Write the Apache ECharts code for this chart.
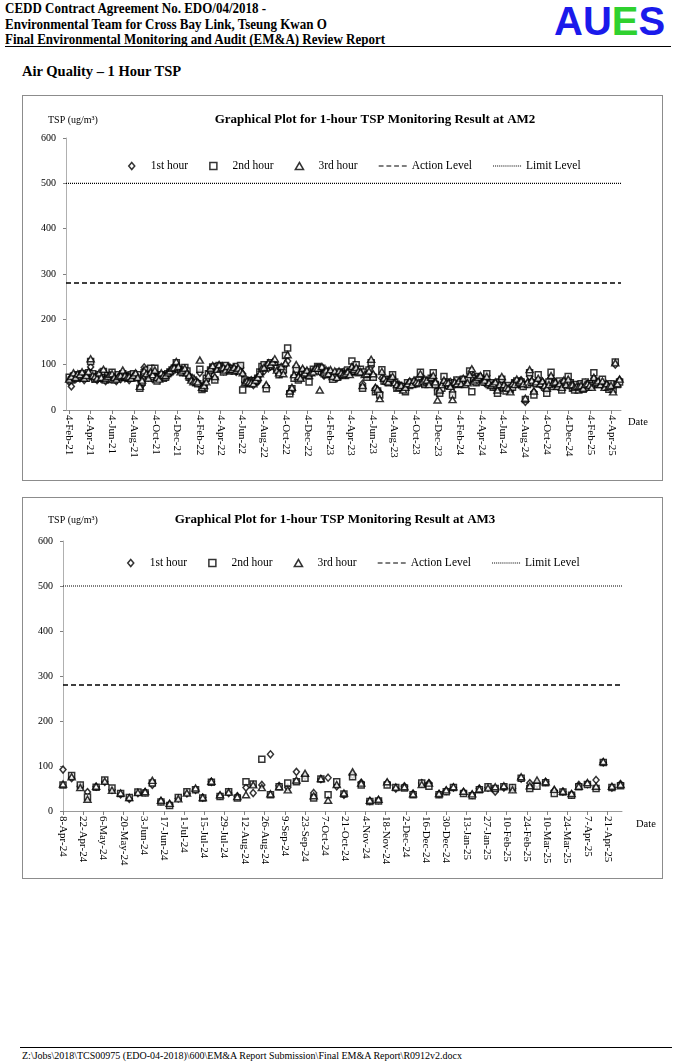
<!DOCTYPE html>
<html><head><meta charset="utf-8">
<script src="https://cdn.jsdelivr.net/npm/echarts@6/dist/echarts.min.js"></script>
<style>
html,body{margin:0;padding:0;background:#fff;}
body{width:676px;height:1064px;position:relative;overflow:hidden;font-family:"Liberation Serif","Times New Roman",serif;color:#000;}
.hdr{position:absolute;left:5px;top:1px;font-weight:bold;font-size:13px;line-height:14.5px;transform-origin:0 0;transform:scaleY(1.08);}
.logo{position:absolute;left:554px;top:0px;font-family:"Liberation Sans",Arial,sans-serif;font-weight:bold;font-size:40px;line-height:40px;transform-origin:0 0;transform:scaleY(1.02);}
.rule{position:absolute;left:5px;width:666px;top:46px;height:0;border-top:1.5px solid #000;}
.sec{position:absolute;left:22px;top:63px;font-weight:bold;font-size:14.5px;line-height:17px;}
.box{position:absolute;left:22px;width:639px;border:1px solid #8c8c8c;}
#c1{top:95px;height:384px}
#c2{top:497px;height:380px}
.frule{position:absolute;left:20px;width:652px;top:1047px;height:0;border-top:1px solid #000}
.foot{position:absolute;left:22px;top:1050px;font-size:10px;line-height:12px;}
</style>
</head><body>
<div class="hdr">CEDD Contract Agreement No. EDO/04/2018 -<br>Environmental Team for Cross Bay Link, Tseung Kwan O<br>Final Environmental Monitoring and Audit (EM&amp;A) Review Report</div>
<div class="logo"><span style="color:#1a1aeb">A</span><span style="color:#1a1aeb">U</span><span style="color:#2fd12f">E</span><span style="color:#1a1aeb">S</span></div>
<div class="rule"></div>
<div class="sec">Air Quality – 1 Hour TSP</div>
<div class="box" id="c1"></div>
<div class="box" id="c2"></div>
<div class="frule"></div>
<div class="foot">Z:\Jobs\2018\TCS00975 (EDO-04-2018)\600\EM&amp;A Report Submission\Final EM&amp;A Report\R0912v2.docx</div>
<script>
// ---------------- AM2 data ----------------
const am2Dates = [
'2021-02-04','2021-02-10','2021-02-16','2021-02-22','2021-02-28',
'2021-03-06','2021-03-12','2021-03-18','2021-03-24','2021-03-30',
'2021-04-05','2021-04-11','2021-04-17','2021-04-23','2021-04-29',
'2021-05-05','2021-05-11','2021-05-17','2021-05-23','2021-05-29',
'2021-06-04','2021-06-10','2021-06-16','2021-06-22','2021-06-28',
'2021-07-04','2021-07-10','2021-07-16','2021-07-22','2021-07-28',
'2021-08-03','2021-08-09','2021-08-15','2021-08-21','2021-08-27',
'2021-09-02','2021-09-08','2021-09-14','2021-09-20','2021-09-26',
'2021-10-02','2021-10-08','2021-10-14','2021-10-20','2021-10-26',
'2021-11-01','2021-11-07','2021-11-13','2021-11-19','2021-11-25',
'2021-12-01','2021-12-07','2021-12-13','2021-12-19','2021-12-25','2021-12-31',
'2022-01-06','2022-01-12','2022-01-18','2022-01-24','2022-01-30',
'2022-02-05','2022-02-11','2022-02-17','2022-02-23',
'2022-03-01','2022-03-07','2022-03-13','2022-03-19','2022-03-25','2022-03-31',
'2022-04-06','2022-04-12','2022-04-18','2022-04-24','2022-04-30',
'2022-05-06','2022-05-12','2022-05-18','2022-05-24','2022-05-30',
'2022-06-05','2022-06-11','2022-06-17','2022-06-23','2022-06-29',
'2022-07-05','2022-07-11','2022-07-17','2022-07-23','2022-07-29',
'2022-08-04','2022-08-10','2022-08-16','2022-08-22','2022-08-28',
'2022-09-03','2022-09-09','2022-09-15','2022-09-21','2022-09-27',
'2022-10-03','2022-10-09','2022-10-15','2022-10-21','2022-10-27',
'2022-11-02','2022-11-08','2022-11-14','2022-11-20','2022-11-26',
'2022-12-02','2022-12-08','2022-12-14','2022-12-20','2022-12-26',
'2023-01-01','2023-01-07','2023-01-13','2023-01-19','2023-01-25','2023-01-31',
'2023-02-06','2023-02-12','2023-02-18','2023-02-24',
'2023-03-02','2023-03-08','2023-03-14','2023-03-20','2023-03-26',
'2023-04-01','2023-04-07','2023-04-13','2023-04-19','2023-04-25',
'2023-05-01','2023-05-07','2023-05-13','2023-05-19','2023-05-25','2023-05-31',
'2023-06-06','2023-06-12','2023-06-18','2023-06-24','2023-06-30',
'2023-07-06','2023-07-12','2023-07-18','2023-07-24','2023-07-30',
'2023-08-05','2023-08-11','2023-08-17','2023-08-23','2023-08-29',
'2023-09-04','2023-09-10','2023-09-16','2023-09-22','2023-09-28',
'2023-10-04','2023-10-10','2023-10-16','2023-10-22','2023-10-28',
'2023-11-03','2023-11-09','2023-11-15','2023-11-21','2023-11-27',
'2023-12-03','2023-12-09','2023-12-15','2023-12-21','2023-12-27',
'2024-01-02','2024-01-08','2024-01-14','2024-01-20','2024-01-26',
'2024-02-01','2024-02-07','2024-02-13','2024-02-19','2024-02-25',
'2024-03-02','2024-03-08','2024-03-14','2024-03-20','2024-03-26',
'2024-04-01','2024-04-07','2024-04-13','2024-04-19','2024-04-25',
'2024-05-01','2024-05-07','2024-05-13','2024-05-19','2024-05-25','2024-05-31',
'2024-06-06','2024-06-12','2024-06-18','2024-06-24','2024-06-30',
'2024-07-06','2024-07-12','2024-07-18','2024-07-24','2024-07-30',
'2024-08-05','2024-08-11','2024-08-17','2024-08-23','2024-08-29',
'2024-09-04','2024-09-10','2024-09-16','2024-09-22','2024-09-28',
'2024-10-04','2024-10-10','2024-10-16','2024-10-22','2024-10-28',
'2024-11-03','2024-11-09','2024-11-15','2024-11-21','2024-11-27',
'2024-12-03','2024-12-09','2024-12-15','2024-12-21','2024-12-27',
'2025-01-02','2025-01-08','2025-01-14','2025-01-20','2025-01-26',
'2025-02-01','2025-02-07','2025-02-13','2025-02-19','2025-02-25',
'2025-03-03','2025-03-09','2025-03-15','2025-03-21','2025-03-27',
'2025-04-02','2025-04-08','2025-04-14','2025-04-20','2025-04-26'
];
const am2Hour1 = [
62,52,70,68,74, 70,74,66,72,78, 95,70,72,66,74, 68,82,64,70,72, 76,70,64,72,68, 74,70,76,66,72,
72,76,70,68,55, 94,78,72,80,68, 76,70,66,72,74, 74,78,82,86,90, 98,92,86,84,90,80,
74,68,64,62,60, 82,52,56,66, 72,84,90,70,92,94, 90,86,92,88,94, 88,92,84,90,94, 80,62,60,64,66,
55,68,62,78,88, 86,52,92,96,100, 100,86,80,90,84, 100,108,40,44,74, 84,70,76,88,80, 84,78,80,86,88,
90,84,88,76,82,86, 76,72,80,70, 80,76,84,78,82, 80,92,84,88,90, 86,58,80,76,82,96, 76,48,44,38,70,
66,62,64,68,72, 58,52,56,48,50, 46,56,60,58,62, 60,64,72,58,62, 64,58,66,70,60, 44,42,52,60,56,
58,62,40,56,64, 60,66,58,64,62, 72,80,66,62,70, 72,64,60,76,58, 56,52,58,46,60,66, 52,46,50,44,54,
58,62,56,66,54, 18,58,74,62,40, 60,64,56,62,52, 44,58,72,56,60, 54,60,48,62,58, 66,58,52,46,54,
48,56,50,60,54, 56,52,70,58,60, 58,62,52,56,48, 56,50,100,60,66
];
const am2Hour2 = [
72,66,75,70,78, 75,80,72,70,82, 107,80,68,72,78, 74,85,66,76,68, 83,66,70,78,72, 80,72,74,70,78,
80,74,78,48,62, 82,88,76,92,74, 92,64,72,78,70, 72,80,84,88,92, 104,90,88,82,94,86,
72,70,66,60,58, 90,45,48,70, 80,88,95,66,96,98, 96,84,98,90,86, 92,86,96,88,98, 44,66,62,58,64,
62,64,70,84,96, 100,47,98,104,96, 98,92,78,94,88, 120,137,36,47,70, 90,66,72,84,78, 80,62,84,90,86,
96,94,92,80,78,84, 80,68,76,74, 84,78,80,76,88, 84,108,86,100,82, 90,48,84,72,88,104, 72,40,42,33,89,
64,68,60,66,78, 62,48,54,52,46, 40,60,54,62,58, 58,66,83,60,56, 60,62,70,82,56, 40,37,48,74,62,
54,58,33,60,66, 56,62,68,60,66, 86,40,70,60,74, 70,68,62,80,56, 60,50,54,37,62,68, 48,42,54,46,50,
60,64,58,62,52, 23,56,82,60,33, 58,78,60,56,50, 37,62,83,52,58, 56,64,44,60,62, 74,60,48,44,56,
44,58,46,62,50, 58,54,82,62,56, 60,68,54,50,46, 58,46,106,56,62
];
const am2Hour3 = [
68,74,82,72,80, 78,84,70,76,85, 113,76,74,70,82, 72,90,70,74,78, 80,72,68,74,76, 88,76,72,74,70,
76,82,72,52,66, 86,80,70,84,78, 88,72,68,82,76, 76,82,86,92,94, 107,96,84,88,92,82,
76,66,62,64,62, 110,50,54,62, 76,92,98,74,90,100, 92,94,88,96,90, 90,94,88,92,86, 82,60,64,62,60,
58,66,72,80,92, 94,56,104,100,106, 113,88,82,96,80, 104,122,42,50,78, 100,74,70,92,82, 88,76,82,84,92,
92,44,96,84,88,80, 89,74,86,72, 86,82,78,80,84, 78,96,90,94,86, 84,54,78,80,86,112, 80,50,46,25,85,
70,64,62,70,74, 60,56,50,54,44, 50,58,64,56,66, 62,60,80,64,68, 66,56,72,76,62, 22,44,56,66,60,
60,52,23,62,58, 64,58,70,56,60, 78,91,64,68,72, 76,62,66,74,60, 54,58,62,44,56,74, 56,50,48,40,58,
56,68,60,64,58, 26,62,89,66,42, 62,70,58,64,54, 48,56,76,60,62, 52,58,50,66,56, 68,54,56,50,52,
52,54,48,56,58, 54,50,72,60,64, 56,64,50,58,52, 54,40,104,58,68
];
const am2Ticks = ['2021-02-04','2021-04-04','2021-06-04','2021-08-04','2021-10-04','2021-12-04',
'2022-02-04','2022-04-04','2022-06-04','2022-08-04','2022-10-04','2022-12-04',
'2023-02-04','2023-04-04','2023-06-04','2023-08-04','2023-10-04','2023-12-04',
'2024-02-04','2024-04-04','2024-06-04','2024-08-04','2024-10-04','2024-12-04',
'2025-02-04','2025-04-04'];
const am2Action = 280, am2Limit = 500;

// ---------------- AM3 data ----------------
const am3Dates = [
'2024-04-08','2024-04-14','2024-04-20','2024-04-25','2024-05-01','2024-05-07','2024-05-12','2024-05-18','2024-05-24','2024-05-30',
'2024-06-04','2024-06-09','2024-06-15','2024-06-21','2024-06-27','2024-07-03','2024-07-09','2024-07-14','2024-07-20','2024-07-26',
'2024-08-01','2024-08-07','2024-08-13','2024-08-18','2024-08-24','2024-08-30','2024-09-05','2024-09-11','2024-09-17','2024-09-23',
'2024-09-29','2024-10-04','2024-10-09','2024-10-15','2024-10-20','2024-10-26','2024-11-01','2024-11-07','2024-11-13','2024-11-19',
'2024-11-25','2024-12-01','2024-12-07','2024-12-13','2024-12-18','2024-12-25','2024-12-30','2025-01-04','2025-01-11','2025-01-17',
'2025-01-22','2025-01-28','2025-02-02','2025-02-08','2025-02-14','2025-02-20','2025-02-26','2025-03-03','2025-03-09','2025-03-15',
'2025-03-21','2025-03-27','2025-04-01','2025-04-07','2025-04-13','2025-04-18','2025-04-24','2025-04-30'
];
const am3Hour1 = [92,73,55,42,54,65,47,37,27,40,42,58,22,15,28,39,47,30,65,34,40,33,52,40,58,126,56,52,87,78,40,71,74,55,36,80,63,22,24,62,50,55,39,62,62,38,45,52,42,36,50,52,43,52,50,72,62,60,65,45,43,37,58,60,69,108,52,60];
const am3Hour2 = [58,79,58,31,53,69,51,39,30,42,40,62,20,12,30,43,47,29,64,32,43,29,65,60,115,36,54,62,65,73,29,71,36,65,38,76,58,21,22,58,52,51,36,62,55,36,43,52,39,34,47,54,50,54,52,73,50,55,63,39,42,35,54,59,50,108,52,56];
const am3Hour3 = [60,76,52,26,55,66,46,40,30,41,43,68,24,17,27,40,51,30,66,36,42,32,36,58,52,38,54,47,69,84,34,72,24,59,40,87,62,24,26,65,53,54,38,59,62,39,47,54,44,38,49,51,54,56,47,76,56,69,65,48,44,39,55,63,55,110,55,59];
const am3Ticks = ['2024-04-08','2024-04-22','2024-05-06','2024-05-20','2024-06-03','2024-06-17','2024-07-01','2024-07-15','2024-07-29',
'2024-08-12','2024-08-26','2024-09-09','2024-09-23','2024-10-07','2024-10-21','2024-11-04','2024-11-18','2024-12-02','2024-12-16',
'2024-12-30','2025-01-13','2025-01-27','2025-02-10','2025-02-24','2025-03-10','2025-03-24','2025-04-07','2025-04-21'];
const am3Action = 280, am3Limit = 500;

const seriesNames = ['1st hour','2nd hour','3rd hour','Action Level','Limit Level'];
const yTicks = {min:0, max:600, interval:100};

// ---------------- rendering ----------------
const SERIF = '"Liberation Serif","Times New Roman",serif';
const MONTHS = ['Jan','Feb','Mar','Apr','May','Jun','Jul','Aug','Sep','Oct','Nov','Dec'];
const ts = s => Date.parse(s + 'T00:00:00Z');
function fmtDate(v){ const d = new Date(v); return d.getUTCDate()+'-'+MONTHS[d.getUTCMonth()]+'-'+String(d.getUTCFullYear()).slice(2); }
function pairs(dates, vals){ return dates.map((d,i)=>[ts(d), vals[i]]); }

// legend icons (shape only, aspect kept inside a 28x7 legend cell)
const DIAMOND_ICON = 'path://M3,0L6,3.5L3,7L0,3.5Z';
const RECT_ICON = 'path://M0,0H6V6H0Z';
const TRI_ICON = 'path://M3.5,0L7,6L0,6Z';
const DASH_ICON = 'path://M0,0h5v1.2h-5zM8,0h5v1.2h-5zM16,0h5v1.2h-5zM24,0h5v1.2h-5z';
const DOT_ICON = 'path://' + Array.from({length:15}, (_, i) => 'M' + (i*2) + ',0h1v1h-1z').join('') ;
const MK = {color:'#fff', borderColor:'#000', borderWidth:1.5};

function build(cfg){
  const xMin = ts(cfg.xMin), xMax = ts(cfg.xMax);
  const ticks = cfg.ticks.map(ts);
  return {
    animation:false,
    textStyle:{fontFamily:SERIF, color:'#000'},
    grid:{left:cfg.grid[0], right:cfg.grid[1], top:cfg.grid[2], bottom:cfg.grid[3]},
    legend:{left:cfg.legend[0], top:cfg.legend[1], itemWidth:28, itemHeight:7, itemGap:21, symbolKeepAspect:true,
      textStyle:{fontFamily:SERIF, fontSize:11.5, color:'#000'}, selectedMode:false,
      data:[
        {name:seriesNames[0], icon:DIAMOND_ICON, itemStyle:MK},
        {name:seriesNames[1], icon:RECT_ICON, itemStyle:MK},
        {name:seriesNames[2], icon:TRI_ICON, itemStyle:MK},
        {name:seriesNames[3], icon:DASH_ICON, itemStyle:{color:'#000', borderWidth:0}},
        {name:seriesNames[4], icon:DOT_ICON, itemStyle:{color:'#000', borderWidth:0}}
      ]},
    graphic:[
      {type:'text', x:25, y:cfg.titleY, style:{text:'TSP (ug/m³)', font:'10px '+SERIF, fill:'#000', textVerticalAlign:'middle'}},
      {type:'text', x:cfg.titleX, y:cfg.titleY, style:{text:cfg.title, font:'bold 13px '+SERIF, fill:'#000', textAlign:'center', textVerticalAlign:'middle'}},
      {type:'text', x:cfg.dateX, y:cfg.dateY, style:{text:'Date', font:'10.5px '+SERIF, fill:'#000', textVerticalAlign:'middle'}}
    ],
    xAxis:{type:'value', min:xMin, max:xMax,
      axisLine:{show:true, lineStyle:{color:'#9a9a9a', width:1}},
      axisTick:{show:true, customValues:ticks, length:4, lineStyle:{color:'#808080'}},
      axisLabel:{customValues:ticks, rotate:-90, formatter:fmtDate, fontSize:11, color:'#000', margin:5, fontFamily:SERIF},
      splitLine:{show:false}},
    yAxis:{type:'value', min:yTicks.min, max:yTicks.max, interval:yTicks.interval,
      axisLine:{show:true, lineStyle:{color:'#b0b0b0', width:1}},
      axisTick:{show:true, length:3, lineStyle:{color:'#808080'}},
      axisLabel:{fontSize:10, color:'#000', margin:10, fontFamily:SERIF},
      splitLine:{show:false}},
    series:[
      {name:seriesNames[0], type:'scatter', symbol:'diamond', symbolSize:[6,7], itemStyle:MK, data:pairs(cfg.dates, cfg.h1)},
      {name:seriesNames[1], type:'scatter', symbol:'rect', symbolSize:6, itemStyle:MK, data:pairs(cfg.dates, cfg.h2)},
      {name:seriesNames[2], type:'scatter', symbol:'triangle', symbolSize:[7,6], itemStyle:MK, data:pairs(cfg.dates, cfg.h3)},
      {name:seriesNames[3], type:'line', symbol:'none', lineStyle:{color:'#000', width:1.5, type:[5,3]}, itemStyle:{color:'#000'},
        data:[[xMin, cfg.action],[xMax, cfg.action]]},
      {name:seriesNames[4], type:'line', symbol:'none', lineStyle:{color:'#000', width:1.2, type:[1,1]}, itemStyle:{color:'#000'},
        data:[[xMin, cfg.limit],[xMax, cfg.limit]]}
    ]
  };
}

const c1 = echarts.init(document.getElementById('c1'), null, {renderer:'canvas'});
c1.setOption(build({
  xMin:'2021-01-26', xMax:'2025-04-30', ticks:am2Ticks, dates:am2Dates, h1:am2Hour1, h2:am2Hour2, h3:am2Hour3,
  action:am2Action, limit:am2Limit, grid:[43,41,42,70], legend:[100,59],
  title:'Graphical Plot for 1-hour TSP Monitoring Result at AM2', titleX:352, titleY:24, dateX:605, dateY:326
}));
const c2 = echarts.init(document.getElementById('c2'), null, {renderer:'canvas'});
c2.setOption(build({
  xMin:'2024-04-08', xMax:'2025-05-01', ticks:am3Ticks, dates:am3Dates, h1:am3Hour1, h2:am3Hour2, h3:am3Hour3,
  action:am3Action, limit:am3Limit, grid:[40,40,43,67], legend:[99,54],
  title:'Graphical Plot for 1-hour TSP Monitoring Result at AM3', titleX:312, titleY:22, dateX:613, dateY:326
}));
</script>
</body></html>
